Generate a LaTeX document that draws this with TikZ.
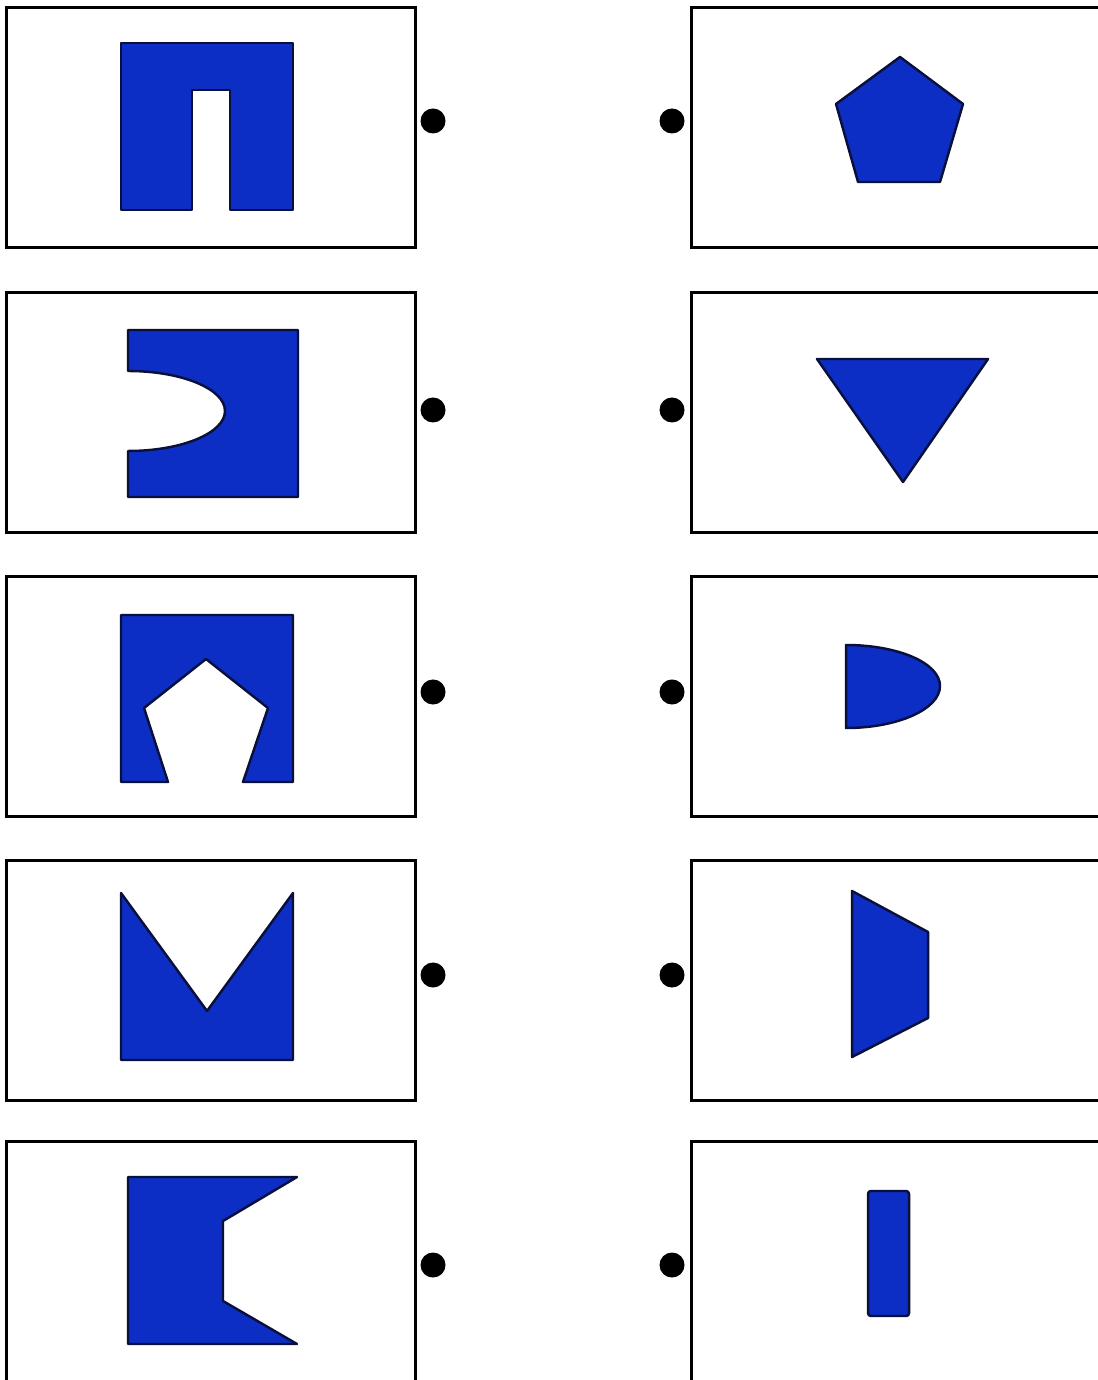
\documentclass[tikz,border=0pt]{standalone}
\usetikzlibrary{positioning}
\definecolor{pieceblue}{RGB}{12,46,196}
\definecolor{pieceline}{RGB}{10,16,60}
\begin{document}
\begin{tikzpicture}[
        x=0.01cm, y=-0.01cm,
        card/.style={draw, line width=0.85pt, minimum width=4.08cm, minimum height=2.39cm, inner sep=0pt, outer sep=0pt},
        dot/.style={circle, fill=black, minimum size=0.25cm, inner sep=0pt},
        piece/.style={fill=pieceblue, draw=pieceline, line width=0.7pt, line join=round},
    ]
    \useasboundingbox (0,0) rectangle (1097,1380);
    \fill[white] (0,0) rectangle (1097,1380);

    % Column x-positions
    \def\cL{211}  % left cards
    \def\cR{896}  % right cards
    \def\dL{433}  % left dots
    \def\dR{672}  % right dots

    % ===== Cards =====
    \node[card] (L1) at (\cL, 127.5) {};  \node[card] (R1) at (\cR, 127.5) {};
    \node[card] (L2) at (\cL, 412.5) {};  \node[card] (R2) at (\cR, 412.5) {};
    \node[card] (L3) at (\cL, 696.5) {};  \node[card] (R3) at (\cR, 696.5) {};
    \node[card] (L4) at (\cL, 980.5) {};  \node[card] (R4) at (\cR, 980.5) {};
    \node[card] (L5) at (\cL, 1261.5) {}; \node[card] (R5) at (\cR, 1261.5) {};

    % ===== Dots =====
    \node[dot] (dL1) at (\dL, 121) {};  \node[dot] (dR1) at (\dR, 121) {};
    \node[dot] (dL2) at (\dL, 410) {};  \node[dot] (dR2) at (\dR, 410) {};
    \node[dot] (dL3) at (\dL, 692) {};  \node[dot] (dR3) at (\dR, 692) {};
    \node[dot] (dL4) at (\dL, 975) {};  \node[dot] (dR4) at (\dR, 975) {};
    \node[dot] (dL5) at (\dL, 1265) {}; \node[dot] (dR5) at (\dR, 1265) {};

    % ===== Left pieces =====
    % Row 1: block with slot
    \filldraw[piece] (121,43) -- (293,43) -- (293,210) -- (230,210) -- (230,90)
        -- (192,90) -- (192,210) -- (121,210) -- cycle;

    % Row 2: block with round bite
    \filldraw[piece] (128,330) -- (298,330) -- (298,497) -- (128,497) -- (128,451)
        .. controls (182,451) and (225,433) .. (225,411)
        .. controls (225,389) and (182,371) .. (128,371) -- cycle;

    % Row 3: block with pentagon bite
    \filldraw[piece] (121,615) -- (293,615) -- (293,782) -- (243,782) -- (268,708)
        -- (206,659) -- (144,708) -- (168,782) -- (121,782) -- cycle;

    % Row 4: block with V cut
    \filldraw[piece] (121,893) -- (207,1011) -- (293,893) -- (293,1060)
        -- (121,1060) -- cycle;

    % Row 5: block with side notch
    \filldraw[piece] (128,1177) -- (297,1177) -- (223,1221) -- (223,1301)
        -- (297,1344) -- (128,1344) -- cycle;

    % ===== Right pieces =====
    % Row 1: pentagon
    \filldraw[piece] (900,57) -- (963,104) -- (940,182) -- (858,182) -- (836,104) -- cycle;

    % Row 2: triangle
    \filldraw[piece] (817,359) -- (988,359) -- (903,482) -- cycle;

    % Row 3: half-round
    \filldraw[piece] (846,645) .. controls (898,645) and (940,663) .. (940,686)
        .. controls (940,709) and (898,728) .. (846,728) -- cycle;

    % Row 4: trapezoid
    \filldraw[piece] (852,891) -- (928,932) -- (928,1018) -- (852,1057) -- cycle;

    % Row 5: bar
    \filldraw[piece, rounded corners=0.8pt] (868,1191) rectangle (909,1316);

\end{tikzpicture}
\end{document}
